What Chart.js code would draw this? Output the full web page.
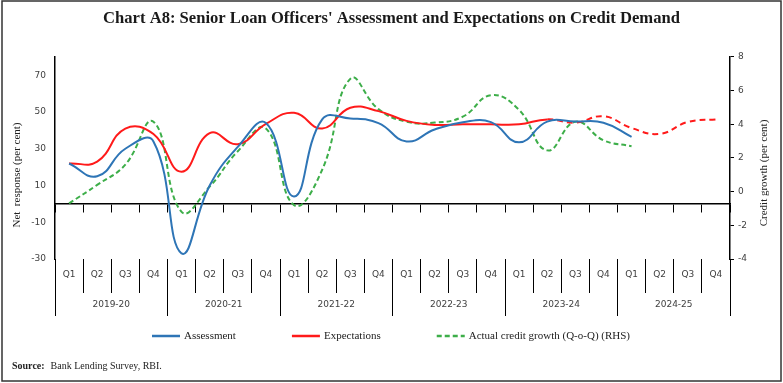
<!DOCTYPE html>
<html><head><meta charset="utf-8">
<script src="https://cdn.jsdelivr.net/npm/chart.js@4/dist/chart.umd.min.js"></script>
<style>html,body{margin:0;padding:0;background:#fff}</style>
</head><body>
<canvas id="c" width="783" height="383"></canvas>
<script>
const quarters = ['Q1','Q2','Q3','Q4','Q1','Q2','Q3','Q4','Q1','Q2','Q3','Q4','Q1','Q2','Q3','Q4','Q1','Q2','Q3','Q4','Q1','Q2','Q3','Q4'];
const years = ['2019-20','2020-21','2021-22','2022-23','2023-24','2024-25'];
const assessment = [22, 15, 30, 34, -27, 10, 31, 44, 4, 46, 46.5, 44, 34, 40.5, 44.5, 44.5, 33.5, 44.8, 44.8, 44.2, 36.5, null, null, null];
const expectations = [22, 23, 41, 38, 17.5, 38.5, 32.5, 43.5, 49.6, 41, 52.3, 50.5, 45.2, 43, 43.3, 43.3, 43.3, 46, 44.2, 47.7, 41.3, 38.1, 44.6, 46];
const creditGrowth = [-0.7, 0.4, 1.6, 4.15, -1.2, 0.3, 2.4, 3.75, -0.8, 1.3, 6.7, 4.9, 4.15, 4.1, 4.45, 5.72, 4.85, 2.45, 4.15, 3.05, 2.7, null, null, null];
const leftTicks = [-30, -10, 10, 30, 50, 70];
const rightTicks = [-4, -2, 0, 2, 4, 6, 8];

const tickFont = {family: 'DejaVu Sans', size: 9};
const tickColor = '#404040';
const serif = 'Liberation Serif';

const extras = {
  id: 'extras',
  afterDraw(chart) {
    const ctx = chart.ctx;
    ctx.save();
    // outer frame
    ctx.strokeStyle = '#333';
    ctx.lineWidth = 1.5;
    ctx.strokeRect(2, 1, 779, 380);
    // axis titles
    ctx.fillStyle = '#222';
    ctx.font = '11px "' + serif + '"';
    ctx.textAlign = 'center';
    ctx.textBaseline = 'middle';
    ctx.save(); ctx.translate(17, 175); ctx.rotate(-Math.PI/2); ctx.fillText('Net  response (per cent)', 0, 0); ctx.restore();
    ctx.save(); ctx.translate(764, 173); ctx.rotate(-Math.PI/2); ctx.fillText('Credit growth (per cent)', 0, 0); ctx.restore();
    // legend
    const ds = chart.data.datasets;
    const lineLen = 28, gap = 4, itemGap = 56, ly = 336;
    ctx.font = '11px "' + serif + '"';
    const widths = ds.map(d => lineLen + gap + ctx.measureText(d.label).width);
    const total = widths.reduce((a,b)=>a+b,0) + itemGap*(ds.length-1);
    let x = 391 - total/2;
    ds.forEach((d,i) => {
      ctx.strokeStyle = d.borderColor;
      ctx.lineWidth = 2.5;
      ctx.setLineDash(d.borderDash || []);
      ctx.beginPath(); ctx.moveTo(x, ly); ctx.lineTo(x+lineLen, ly); ctx.stroke();
      ctx.setLineDash([]);
      ctx.fillStyle = '#222';
      ctx.textAlign = 'left';
      ctx.fillText(d.label, x + lineLen + gap, ly);
      x += widths[i] + itemGap;
    });
    // source
    ctx.textAlign = 'left';
    ctx.font = 'bold 10px "' + serif + '"';
    ctx.fillText('Source:', 12, 366);
    const sw = ctx.measureText('Source:').width;
    ctx.font = '10px "' + serif + '"';
    ctx.fillText('Bank Lending Survey, RBI.', 12 + sw + 6, 366);
    ctx.restore();
  }
};

new Chart(document.getElementById('c'), {
  type: 'line',
  data: {
    labels: quarters,
    datasets: [
      {label: 'Assessment', data: assessment, yAxisID: 'y', borderColor: '#2E75B6', borderWidth: 2, pointRadius: 0, tension: 0.45, fill: false},
      {label: 'Expectations', data: expectations, yAxisID: 'y', borderColor: '#FF1A1A', borderWidth: 2, pointRadius: 0, tension: 0.45, fill: false,
        segment: {borderDash: c => c.p0DataIndex >= 17 ? [6, 4] : undefined}},
      {label: 'Actual credit growth (Q-o-Q) (RHS)', data: creditGrowth, yAxisID: 'y1', borderColor: '#3DAE49', borderWidth: 2, borderDash: [5, 3], pointRadius: 0, tension: 0.45, fill: false}
    ]
  },
  options: {
    responsive: false,
    animation: false,
    devicePixelRatio: 1,
    layout: {padding: {left: 0, right: 0, top: 0, bottom: 67}},
    plugins: {
      legend: {display: false},
      tooltip: {enabled: false},
      title: {display: true, text: "Chart A8: Senior Loan Officers' Assessment and Expectations on Credit Demand",
        font: {family: serif, size: 16.6, weight: 'bold'}, color: '#1a1a1a', padding: {top: 9, bottom: 28}}
    },
    scales: {
      x: {
        type: 'category', position: 'bottom', offset: true,
        grid: {display: true, drawOnChartArea: false, offset: true, tickLength: 34, color: '#000', lineWidth: 1},
        border: {display: false},
        ticks: {font: tickFont, color: tickColor, padding: -24, autoSkip: false, maxRotation: 0},
        afterFit: s => { s.height = 34; }
      },
      x2: {
        type: 'category', position: 'bottom', offset: true, labels: years,
        grid: {display: true, drawOnChartArea: false, offset: true, tickLength: 23, color: '#000', lineWidth: 1},
        border: {display: false},
        ticks: {font: tickFont, color: tickColor, padding: -17, autoSkip: false, maxRotation: 0},
        afterFit: s => { s.height = 23; }
      },
      x3: {
        type: 'category', position: {y: 0}, offset: true,
        grid: {display: true, drawOnChartArea: false, offset: true, tickLength: 8, color: '#000', lineWidth: 1},
        border: {display: true, color: '#000', width: 1.5},
        ticks: {display: false}
      },
      y: {
        position: 'left', min: -30, max: 80,
        afterBuildTicks: s => { s.ticks = leftTicks.map(v => ({value: v})); },
        grid: {display: false, drawTicks: false},
        border: {display: true, color: '#000', width: 1.5},
        ticks: {font: tickFont, color: tickColor, padding: 9},
        afterFit: s => { s.width = 55; }
      },
      y1: {
        position: 'right', min: -4, max: 8,
        afterBuildTicks: s => { s.ticks = rightTicks.map(v => ({value: v})); },
        grid: {display: true, drawOnChartArea: false, drawTicks: true, tickLength: 4, color: '#000'},
        border: {display: true, color: '#000', width: 1.5},
        ticks: {font: tickFont, color: tickColor, padding: 4},
        afterFit: s => { s.width = 53; }
      }
    }
  },
  plugins: [extras]
});
</script>
</body></html>
